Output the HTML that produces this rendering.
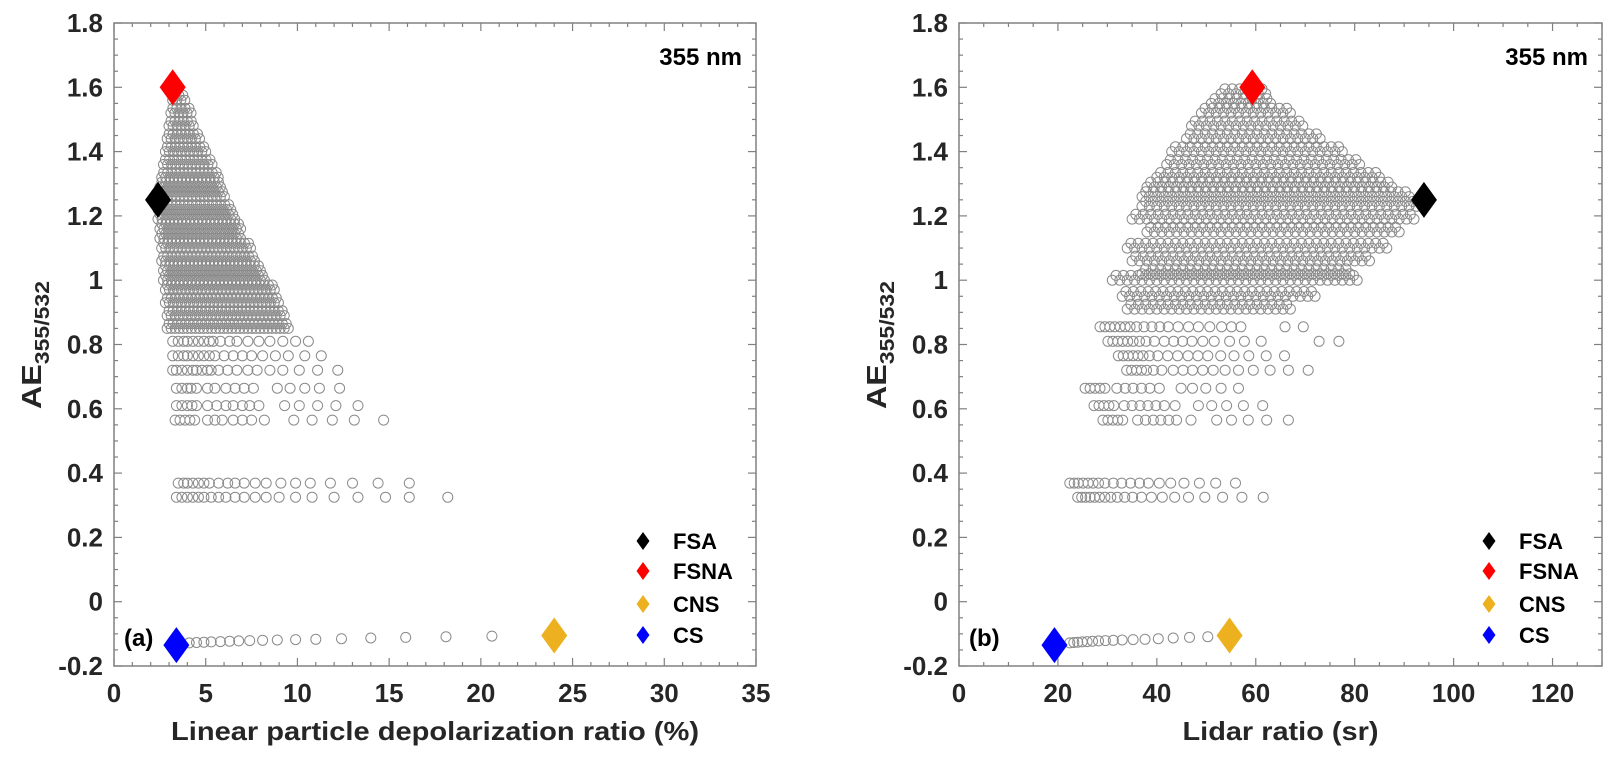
<!DOCTYPE html>
<html><head><meta charset="utf-8"><style>
html,body{margin:0;padding:0;background:#fff;}
svg{display:block;font-family:"Liberation Sans",Arial,sans-serif;font-weight:bold;}
</style></head><body>
<svg id="chart" width="1617" height="760" viewBox="0 0 1617 760" xmlns="http://www.w3.org/2000/svg"></svg>
<script>
// ---------- DATA ----------
const yTickLabels = ['-0.2','0','0.2','0.4','0.6','0.8','1','1.2','1.4','1.6','1.8'];
const xTickLabelsA = ['0','5','10','15','20','25','30','35'];
const xTickLabelsB = ['0','20','40','60','80','100','120'];
const endNames = ['FSA','FSNA','CNS','CS'];
const endColors = ['#000000','#ff0000','#edb120','#0000ff'];
const endDepol = [2.4, 3.2, 24.0, 3.4];
const endLidar = [94.0, 59.3, 54.7, 19.3];
const endAE = [1.25, 1.6, -0.105, -0.135];
// sparse rows, panel (a)
const rowAE_A = [0.81, 0.765, 0.72, 0.664, 0.61, 0.565, 0.369, 0.325];
const rowDepol = [
 [3.2,3.5,3.8,4.0,4.3,4.6,4.9,5.2,5.4,5.8,6.3,6.7,7.3,7.9,8.5,9.2,9.9,10.6],
 [3.2,3.5,3.8,4.0,4.3,4.6,4.9,5.2,5.5,6.0,6.5,7.0,7.5,8.1,8.8,9.5,10.4,11.3],
 [3.2,3.4,3.7,4.0,4.3,4.5,4.8,5.1,5.3,5.7,6.2,6.7,7.3,7.8,8.5,9.2,10.1,11.1,12.2],
 [3.4,3.7,4.0,4.2,4.5,5.1,5.5,6.1,6.6,7.1,7.6,8.9,9.6,10.4,11.2,12.3],
 [3.4,3.7,4.0,4.25,4.5,5.1,5.6,6.1,6.5,7.0,7.4,7.9,9.3,10.1,11.1,12.1,13.3],
 [3.33,3.6,3.87,4.14,4.4,5.1,5.5,5.9,6.5,7.0,7.5,8.2,9.8,10.8,11.9,13.1,14.7],
 [3.5,3.8,4.0,4.3,4.6,4.9,5.2,5.7,6.2,6.6,7.1,7.7,8.3,9.1,9.9,10.7,11.8,13.0,14.4,16.1],
 [3.4,3.7,4.0,4.3,4.6,4.9,5.3,5.7,6.1,6.6,7.1,7.7,8.3,9.0,9.9,10.8,12.0,13.3,14.8,16.1,18.2]
];
const coarseDepol = [4.1,4.5,4.9,5.3,5.8,6.3,6.8,7.4,8.1,8.9,9.9,11.0,12.4,14.0,15.9,18.1,20.6];
const coarseAE_A = [-0.128,-0.127,-0.126,-0.125,-0.124,-0.123,-0.122,-0.121,-0.12,-0.119,-0.118,-0.117,-0.115,-0.113,-0.111,-0.109,-0.107];
// dense region, panel (a): row AE, lower and upper depol bounds
const blobAE_A = [0.85,0.89,0.93,0.97,1.0,1.03,1.06,1.1,1.13,1.16,1.19,1.22,1.26,1.29,1.32,1.36,1.4,1.44,1.48,1.52,1.56,1.59];
const blobLo_A = [2.9,2.9,2.8,2.8,2.7,2.7,2.6,2.6,2.5,2.5,2.4,2.4,2.5,2.5,2.6,2.7,2.8,2.9,3.0,3.1,3.2,3.2];
const blobHi_A = [9.5,9.3,9.1,8.8,8.4,8.0,7.7,7.5,7.1,6.9,6.7,6.4,6.2,5.9,5.7,5.4,5.1,4.8,4.5,4.2,3.9,3.5];
// sparse rows, panel (b)
const rowAE_B = [0.855, 0.81, 0.765, 0.72, 0.664, 0.61, 0.565, 0.369, 0.325];
const rowLidar = [
 [28.5,29.5,30.5,31.5,32.6,33.6,34.6,35.9,37.4,39.0,40.6,42.3,44.3,46.4,48.4,50.7,53.1,55.1,57.0,65.9,69.6],
 [30.1,31.1,32.1,33.1,34.1,35.2,36.5,37.8,39.5,41.5,43.4,45.2,47.1,49.3,51.6,54.7,57.7,61.1,72.8,76.8],
 [32.2,33.2,34.2,35.2,36.2,37.2,38.5,40.2,42.2,44.2,46.3,48.3,50.3,52.9,55.6,58.6,62.1,65.8],
 [33.9,34.9,35.9,36.9,37.9,39.3,41.0,43.3,45.3,47.2,49.3,51.4,53.8,56.5,59.5,62.9,66.6,70.6],
 [25.5,26.5,27.5,28.5,29.5,31.9,33.6,35.2,36.9,38.6,40.5,44.9,47.2,49.9,53.0,56.5],
 [27.3,28.3,29.3,30.3,31.3,33.4,35.0,36.6,38.2,39.8,41.5,43.7,48.4,51.1,54.1,57.5,61.4],
 [29.1,30.1,31.1,32.1,33.1,36.1,37.7,39.3,40.8,42.4,44.0,46.9,52.1,55.1,58.5,62.2,66.6],
 [22.4,23.3,24.1,25.1,26.1,27.1,28.2,29.5,31.2,32.9,34.7,36.5,38.3,40.5,42.8,45.5,48.6,51.9,55.9],
 [24.0,24.8,25.6,26.5,27.4,28.4,29.5,30.7,32.0,33.5,35.1,36.9,38.9,41.1,43.6,46.4,49.7,53.3,57.2,61.5]
];
const coarseLidar = [22.4,23.2,24.0,24.9,25.9,27.0,28.2,29.6,31.2,33.0,35.2,37.6,40.3,43.3,46.6,50.3];
const coarseAE_B = [-0.128,-0.127,-0.126,-0.125,-0.124,-0.123,-0.122,-0.121,-0.12,-0.119,-0.118,-0.117,-0.115,-0.113,-0.111,-0.109];
// dense region, panel (b)
const blobAE_B = [0.91,0.95,1.0,1.02,1.06,1.1,1.15,1.19,1.23,1.26,1.29,1.32,1.36,1.4,1.44,1.48,1.52,1.55,1.58];
const blobLo_B = [34,33,31,37,35,34,38,35,37,37,38,40,42,43,46,47,49,51,53];
const blobHi_B = [67,72,81,80,84,87,89,92,93,92,88,85,81,78,74,70,67,64,62];

// ---------- DRAW ----------
const NS='http://www.w3.org/2000/svg';
const svg=document.getElementById('chart');
function mk(tag,attrs,parent){const e=document.createElementNS(NS,tag);for(const k in attrs)e.setAttribute(k,attrs[k]);(parent||svg).appendChild(e);return e;}
const Y0=23,Y1=666,YMIN=-0.2,YMAX=1.8;
function yS(v){return Y1-(v-YMIN)/(YMAX-YMIN)*(Y1-Y0);}

function panel(cfg){
  const g=mk('g',{});
  
  
  const xS=v=>cfg.x0+(v-cfg.xmin)/(cfg.xmax-cfg.xmin)*(cfg.x1-cfg.x0);
  const cg=mk('g',{fill:'none',stroke:'#8a8a8a','stroke-width':1},g);
  
  
  function circ(x,y){const c=mk('circle',{cx:xS(x).toFixed(1),cy:yS(y).toFixed(1),r:5},cg);
    
    }
  for(let i=0;i<cfg.blobAE.length;i++){
    for(let v=cfg.blobLo[i];v<=cfg.blobHi[i]+1e-6;v+=cfg.step) circ(v,cfg.blobAE[i]);
    for(let v=cfg.blobLo[i]+cfg.step/2;v<=cfg.blobHi[i]-cfg.step/2+1e-6;v+=cfg.step) circ(v,cfg.blobAE[i]+0.015);
  }
  cfg.rowAE.forEach((ae,i)=>cfg.rows[i].forEach(v=>circ(v,ae)));
  cfg.coarseX.forEach((v,i)=>circ(v,cfg.coarseY[i]));
  const fr=mk('rect',{x:cfg.x0,y:Y0,width:cfg.x1-cfg.x0,height:Y1-Y0,fill:'none',stroke:'#808080','stroke-width':1.5},g);
  
  
  for(let v=cfg.xmin;v<=cfg.xmax+1e-6;v+=cfg.xminor){
    const major=Math.abs(v/cfg.xmajor-Math.round(v/cfg.xmajor))<1e-6;
    const L=major?8:4,x=xS(v);
    mk('line',{x1:x,x2:x,y1:Y1,y2:Y1-L,stroke:'#808080','stroke-width':1.2},g);
    mk('line',{x1:x,x2:x,y1:Y0,y2:Y0+L,stroke:'#808080','stroke-width':1.2},g);
  }
  cfg.xLabels.forEach((t,i)=>{const tx=mk('text',{x:xS(i*cfg.xmajor),y:702,'text-anchor':'middle','font-size':26,fill:'#262626'},g);tx.textContent=t;
    
    });
  for(let k=0;k<=40;k++){const v=YMIN+k*0.05,major=k%4===0,L=major?8:4,y=yS(v);
    mk('line',{x1:cfg.x0,x2:cfg.x0+L,y1:y,y2:y,stroke:'#808080','stroke-width':1.2},g);
    mk('line',{x1:cfg.x1,x2:cfg.x1-L,y1:y,y2:y,stroke:'#808080','stroke-width':1.2},g);}
  yTickLabels.forEach((t,i)=>{const tx=mk('text',{x:cfg.x0-11,y:yS(YMIN+i*0.2)+9,'text-anchor':'end','font-size':26,fill:'#262626'},g);tx.textContent=t;
    
    });
  const xt=mk('text',{x:(cfg.x0+cfg.x1)/2,y:740,'text-anchor':'middle','font-size':26,fill:'#262626',textLength:cfg.titleLen,lengthAdjust:'spacingAndGlyphs'},g);
  xt.textContent=cfg.xTitle;
  
  
  const yt=mk('text',{transform:`translate(${cfg.x0-73},345) rotate(-90)`,'text-anchor':'middle','font-size':28,fill:'#262626',textLength:128,lengthAdjust:'spacingAndGlyphs'},g);
  yt.innerHTML='AE<tspan font-size="20" dy="8">355/532</tspan>';
  
  
  const wl=mk('text',{x:cfg.x1-14,y:65,'text-anchor':'end','font-size':24,fill:'#000'},g);
  wl.textContent='355 nm';
  
  
  const pl=mk('text',{x:cfg.x0+10,y:646,'font-size':24,fill:'#000'},g);
  pl.textContent=cfg.tag;
  
  
  cfg.endX.forEach((v,i)=>{const x=xS(v),y=yS(endAE[i]);
    const d=mk('polygon',{points:`${x},${y-18} ${x+13},${y} ${x},${y+18} ${x-13},${y}`,fill:endColors[i]},g);
    
    });
  const lg=mk('g',{},g);
  
  
  const ly=[541,571,604,635];
  endNames.forEach((n,i)=>{const x=cfg.x1-113,y=ly[i];
    const m=mk('polygon',{points:`${x},${y-9} ${x+6.5},${y} ${x},${y+9} ${x-6.5},${y}`,fill:endColors[i]},lg);
    
    
    const t=mk('text',{x:cfg.x1-83,y:y+8,'font-size':22,fill:'#000'},lg);t.textContent=n;
    
    });
}
panel({name:'panel-a-depolarization',tag:'(a)',x0:114,x1:756,xmin:0,xmax:35,xmajor:5,xminor:1,xLabels:xTickLabelsA,
  xTitle:'Linear particle depolarization ratio (%)',titleLen:528,step:0.22,
  blobAE:blobAE_A,blobLo:blobLo_A,blobHi:blobHi_A,rowAE:rowAE_A,rows:rowDepol,coarseX:coarseDepol,coarseY:coarseAE_A,endX:endDepol});
panel({name:'panel-b-lidar-ratio',tag:'(b)',x0:959,x1:1602,xmin:0,xmax:130,xmajor:20,xminor:5,xLabels:xTickLabelsB,
  xTitle:'Lidar ratio (sr)',titleLen:196,step:1.5,
  blobAE:blobAE_B,blobLo:blobLo_B,blobHi:blobHi_B,rowAE:rowAE_B,rows:rowLidar,coarseX:coarseLidar,coarseY:coarseAE_B,endX:endLidar});
</script>
</body></html>
